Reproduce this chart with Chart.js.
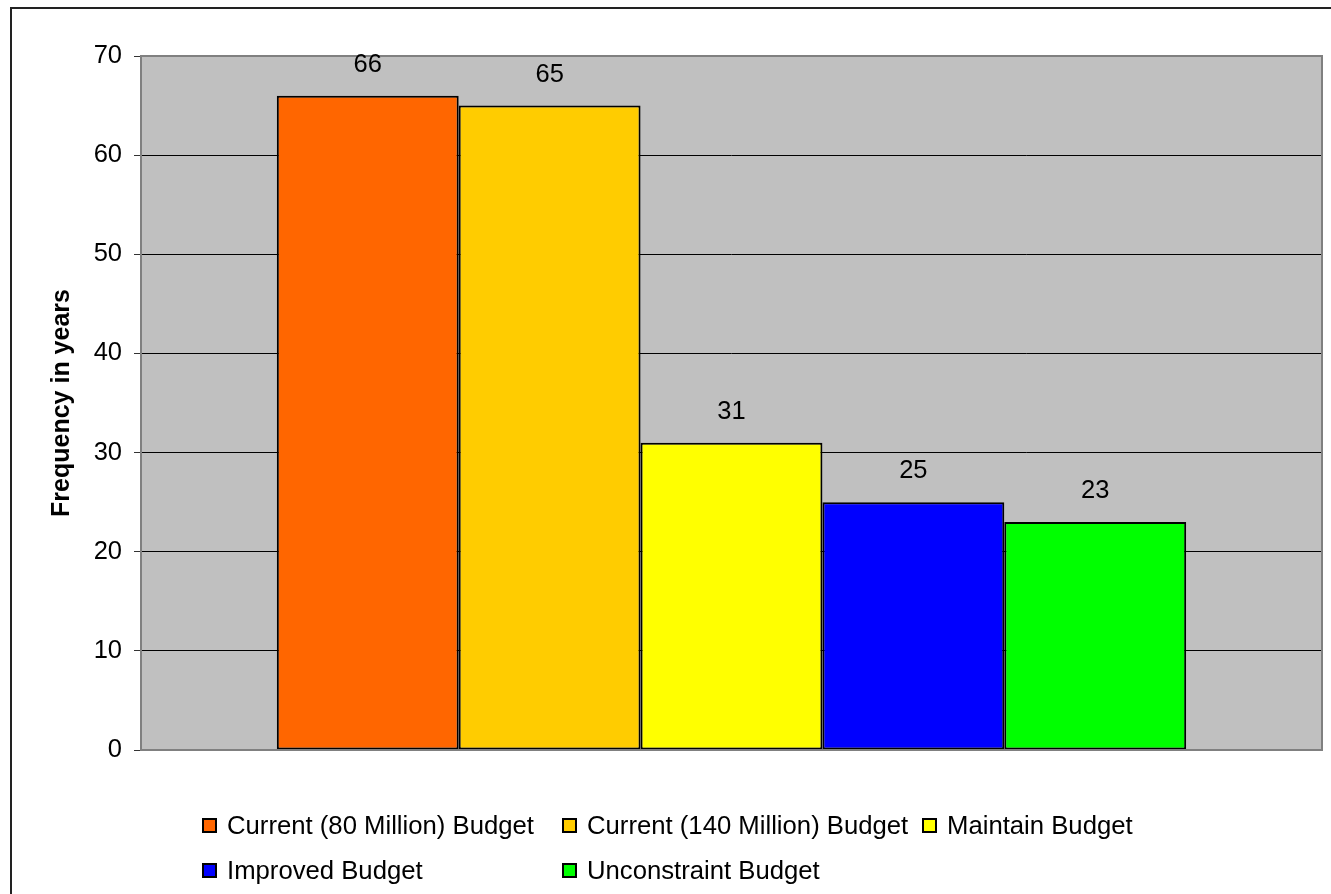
<!DOCTYPE html>
<html>
<head>
<meta charset="utf-8">
<script src="https://cdn.jsdelivr.net/npm/chart.js@4.4.0/dist/chart.umd.min.js"></script>
<style>
	html, body { margin: 0; padding: 0; background: #fff; overflow: hidden; }
	#wrap { position: relative; width: 1331px; height: 894px; font-family: "Liberation Sans", Arial, sans-serif; }
	#frame { position: absolute; left: 10px; top: 7px; width: 1340px; height: 900px; border: 2px solid #222; box-sizing: border-box; }
	#chart { position: absolute; left: 0; top: 0; }
	#legend { position: absolute; left: 202px; top: 803px; display: grid; grid-template-columns: 360px 360px auto; grid-auto-rows: 45px; font-size: 25.7px; color: #000; }
	.item { display: flex; align-items: center; white-space: nowrap; }
	.box { flex: 0 0 auto; width: 11px; height: 11px; border: 2px solid #000; margin-right: 10px; }
</style>
</head>
<body>
<div id="wrap">
	<div id="frame"></div>
	<canvas id="chart" width="1331" height="894"></canvas>
	<div id="legend"></div>
</div>
<script>
const CATEGORIES    = [''];
const SERIES_NAMES  = [
	'Current (80 Million) Budget',
	'Current (140 Million) Budget',
	'Maintain Budget',
	'Improved Budget',
	'Unconstraint Budget'
];
const SERIES_VALUES = [66, 65, 31, 25, 23];
const SERIES_COLORS = ['#FF6600', '#FFCC00', '#FFFF00', '#0000FF', '#00FF00'];
const Y_TICKS       = [0, 10, 20, 30, 40, 50, 60, 70];
const Y_TITLE       = 'Frequency in years';

const FONT = '"Liberation Sans", Arial, sans-serif';

// Grey plot area, its border, and the value printed above each bar
const plotArea = {
	id: 'plotArea',
	beforeDraw(chart) {
		const { ctx, chartArea: a } = chart;
		ctx.save();
		ctx.fillStyle = '#C0C0C0';
		ctx.fillRect(a.left, a.top, a.right - a.left, a.bottom - a.top);
		ctx.restore();
	},
	afterDatasetsDraw(chart) {
		const { ctx, chartArea: a } = chart;
		ctx.save();
		ctx.strokeStyle = '#808080';
		ctx.lineWidth = 2;
		ctx.strokeRect(a.left, a.top, a.right - a.left, a.bottom - a.top);

		ctx.fillStyle = '#000';
		ctx.font = `25.5px ${FONT}`;
		ctx.textAlign = 'center';
		ctx.textBaseline = 'alphabetic';
		chart.data.datasets.forEach((ds, i) => {
			chart.getDatasetMeta(i).data.forEach((bar, j) => {
				ctx.fillText(String(ds.data[j]), bar.x, bar.y - 24);
			});
		});
		ctx.restore();
	}
};

const datasets = SERIES_NAMES.map((name, i) => ({
	label: name,
	data: [SERIES_VALUES[i]],
	backgroundColor: SERIES_COLORS[i],
	borderColor: '#000',
	borderWidth: 2,
	borderSkipped: false,
	categoryPercentage: 0.77,
	barPercentage: 1
}));

const chart = new Chart(document.getElementById('chart').getContext('2d'), {
	type: 'bar',
	data: { labels: CATEGORIES, datasets },
	options: {
		responsive: false,
		animation: false,
		events: [],
		layout: { padding: { top: 56, right: 9, bottom: 144, left: 0 } },
		plugins: {
			legend: { display: false },
			tooltip: { enabled: false }
		},
		scales: {
			x: { display: false },
			y: {
				min: 0,
				max: 70,
				afterBuildTicks: s => { s.ticks = Y_TICKS.map(v => ({ value: v })); },
				afterFit: s => { s.width = 141; },
				ticks: { color: '#000', padding: 12, font: { size: 25.5, family: FONT } },
				grid: { color: '#000', lineWidth: 1, tickLength: 7, tickColor: '#333' },
				border: { display: false },
				title: {
					display: true,
					text: Y_TITLE,
					color: '#000',
					font: { size: 25, weight: 'bold', family: FONT },
					padding: { top: 47, bottom: 0 }
				}
			}
		}
	},
	plugins: [plotArea]
});

// Legend laid out as a grid under the plot, built from the datasets
const legendEl = document.getElementById('legend');
chart.data.datasets.forEach(ds => {
	const item = document.createElement('div');
	item.className = 'item';
	const box = document.createElement('span');
	box.className = 'box';
	box.style.background = ds.backgroundColor;
	const txt = document.createElement('span');
	txt.textContent = ds.label;
	item.append(box, txt);
	legendEl.appendChild(item);
});
</script>
</body>
</html>
